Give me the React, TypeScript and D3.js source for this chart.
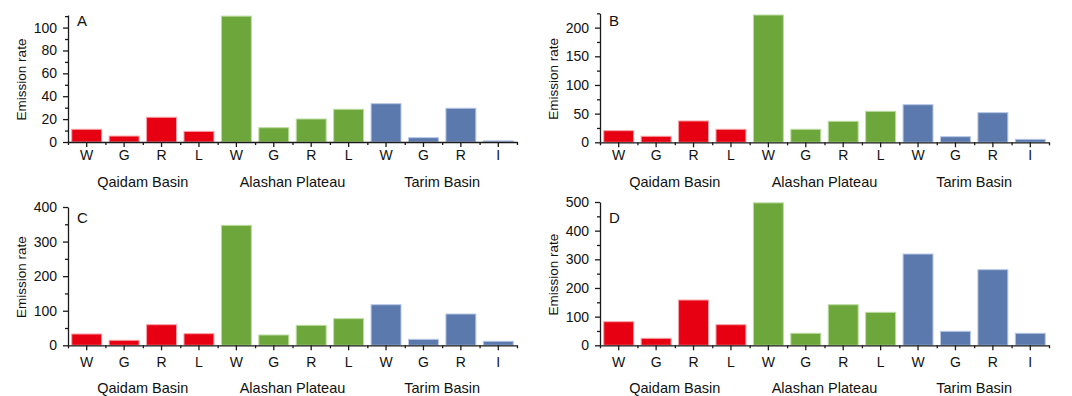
import React, { useEffect, useRef } from 'react';
import * as d3 from 'd3';

const groups = ['Qaidam Basin', 'Alashan Plateau', 'Tarim Basin'];
const categories = ['W', 'G', 'R', 'L', 'W', 'G', 'R', 'L', 'W', 'G', 'R', 'I'];
const groupIndex = [0, 0, 0, 0, 1, 1, 1, 1, 2, 2, 2, 2];
const groupColors = ['#E60012', '#6DA73B', '#5B79AC'];
const groupStroke = ['#f7a0a6', '#bcdca0', '#b6c8e6'];

const valuesA = [11.1, 5.2, 21.6, 9.3, 110, 12.5, 20.1, 28.6, 33.5, 3.8, 29.5, 1.0];
const valuesB = [20.3, 10.5, 37.2, 22.7, 222, 22.7, 36.6, 54, 65.6, 9.8, 51.7, 5.2];
const valuesC = [32.7, 14.5, 59.6, 33.6, 347, 29.8, 57.8, 77, 117.4, 17.3, 90.5, 11.6];
const valuesD = [82.3, 24.4, 158, 71.9, 497, 41.9, 141.6, 115, 318.5, 48.8, 263.8, 41.9];

const ticksA = [0, 20, 40, 60, 80, 100];
const ticksB = [0, 50, 100, 150, 200];
const ticksC = [0, 100, 200, 300, 400];
const ticksD = [0, 100, 200, 300, 400, 500];

const FONT = '"Liberation Sans", Arial, sans-serif';

// per-panel layout (relative to panel origin)
const panels = [
  { letter: 'A', values: valuesA, ticks: ticksA, max: 111, minor: 10, ox: 0, oy: 0, top: 15, bottom: 142, catPad: 3, groupDy: 40 },
  { letter: 'B', values: valuesB, ticks: ticksB, max: 225, minor: 25, ox: 532, oy: 0, top: 13.3, bottom: 142.3, catPad: 3, groupDy: 40 },
  { letter: 'C', values: valuesC, ticks: ticksC, max: 400, minor: 50, ox: 0, oy: 196, top: 11, bottom: 149.3, catPad: 7, groupDy: 43 },
  { letter: 'D', values: valuesD, ticks: ticksD, max: 500, minor: 50, ox: 532, oy: 196, top: 6, bottom: 149.3, catPad: 7, groupDy: 43 },
];

function App() {
  const svgRef = useRef(null);

  useEffect(() => {
    const svg = d3.select(svgRef.current);
    svg.selectAll('*').remove();

    const left = 68;
    const right = 517;

    panels.forEach(p => {
      const g = svg.append('g').attr('transform', `translate(${p.ox},${p.oy})`);

      const x = d3.scaleBand()
        .domain(d3.range(categories.length))
        .range([left, right])
        .paddingInner(0.2)
        .paddingOuter(0.1);

      const xEdge = d3.scaleLinear()
        .domain([0, categories.length])
        .range([left, right]);

      const y = d3.scaleLinear()
        .domain([0, p.max])
        .range([p.bottom, p.top]);

      // bars
      g.selectAll('rect.bar')
        .data(p.values)
        .enter()
        .append('rect')
        .attr('class', 'bar')
        .attr('x', (d, i) => x(i))
        .attr('width', x.bandwidth())
        .attr('y', d => y(d))
        .attr('height', d => y(0) - y(d))
        .attr('fill', (d, i) => groupColors[groupIndex[i]])
        .attr('stroke', (d, i) => groupStroke[groupIndex[i]])
        .attr('stroke-width', 1);

      // y axis minor ticks
      const minorVals = d3.range(0, p.max + 0.001, p.minor).filter(v => !p.ticks.includes(v));
      g.append('g')
        .attr('transform', `translate(${left},0)`)
        .call(d3.axisLeft(y).tickValues(minorVals).tickSize(3).tickFormat(() => '').tickSizeOuter(0))
        .call(s => s.select('.domain').remove());

      // y axis major
      const yAxis = g.append('g')
        .attr('transform', `translate(${left},0)`)
        .call(d3.axisLeft(y).tickValues(p.ticks).tickSize(5).tickPadding(6).tickSizeOuter(0));

      // x axis minor ticks at band edges
      g.append('g')
        .attr('transform', `translate(0,${p.bottom})`)
        .call(d3.axisBottom(xEdge).tickValues(d3.range(categories.length + 1)).tickSize(3).tickFormat(() => '').tickSizeOuter(0))
        .call(s => s.select('.domain').remove());

      // x axis major
      const xAxis = g.append('g')
        .attr('transform', `translate(0,${p.bottom})`)
        .call(d3.axisBottom(x).tickSize(5).tickPadding(p.catPad).tickSizeOuter(0).tickFormat(i => categories[i]));

      g.selectAll('.tick line, .domain')
        .attr('stroke', '#1a1a1a')
        .attr('stroke-width', 1.3);

      yAxis.attr('font-family', FONT).attr('font-size', 14);
      xAxis.attr('font-family', FONT).attr('font-size', 14);
      g.selectAll('.tick text').attr('fill', '#111');

      // group labels
      groups.forEach((name, gi) => {
        g.append('text')
          .attr('x', xEdge(gi * 4 + 2))
          .attr('y', p.bottom + p.groupDy)
          .attr('dy', '0.35em')
          .attr('text-anchor', 'middle')
          .attr('font-family', FONT)
          .attr('font-size', 14.5)
          .attr('fill', '#111')
          .text(name);
      });

      // y label
      g.append('text')
        .attr('transform', `translate(21,${(p.top + p.bottom) / 2 + 1}) rotate(-90)`)
        .attr('text-anchor', 'middle')
        .attr('dy', '0.35em')
        .attr('font-family', FONT)
        .attr('font-size', 13.5)
        .attr('fill', '#111')
        .text('Emission rate');

      // panel letter
      g.append('text')
        .attr('x', 77)
        .attr('y', p.oy === 0 ? 25.5 : 27)
        .attr('font-family', FONT)
        .attr('font-size', 15)
        .attr('fill', '#111')
        .text(p.letter);
    });
  }, []);

  return (
    <svg
      ref={svgRef}
      width={1072}
      height={396}
      style={{ position: 'absolute', left: 0, top: 0, background: '#fff' }}
    />
  );
}

export default App;
